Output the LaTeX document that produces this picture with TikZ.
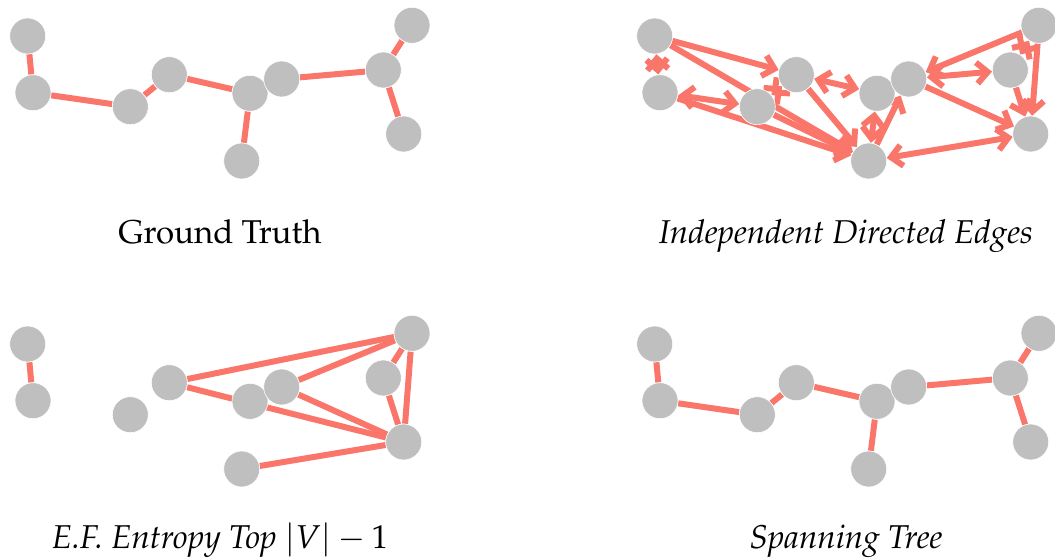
\documentclass[tikz,border=0pt]{standalone}
\usepackage[T1]{fontenc}
\usepackage{mathpazo}
\usetikzlibrary{arrows.meta,backgrounds}
\definecolor{edgec}{RGB}{250,118,106}
\definecolor{nodec}{RGB}{191,191,191}
\tikzset{
  vtx/.style={circle,fill=nodec,draw=white,line width=0.6pt,minimum size=36pt,inner sep=0pt},
  edg/.style={draw=edgec,line width=6pt},
  tipr/.style={-{Straight Barb[length=11pt,width=21pt]}},
  tipb/.style={{Straight Barb[length=11pt,width=21pt]}-{Straight Barb[length=11pt,width=21pt]}},
  lbl/.style={font=\fontsize{33}{40}\selectfont,anchor=base,inner sep=0pt}
}
\newcommand\placevtx[1]{%
  \foreach \i/\px/\py in {1/27.7/36,2/33/92.7,3/130.3/106.7,4/169.3/74.7,5/250/93.3,6/281.7/79,7/241.7/161,8/383.3/70,9/412/25.3,10/403.7/134}
    {\node[vtx] (#1\i) at (\px,\py) {};}}
\begin{document}
\begin{tikzpicture}[x=1pt,y=-1pt]
\useasboundingbox (0,0) rectangle (1055,557);
% panels
\begin{scope}\placevtx{a}\end{scope}
\begin{scope}[shift={(627,0)}]\placevtx{c}\end{scope}
\begin{scope}[shift={(0,308)}]\placevtx{d}\end{scope}
\begin{scope}[shift={(627,308)}]\placevtx{b}\end{scope}
\begin{pgfonlayer}{background}
  % ground truth and spanning tree
  \foreach \p in {a,b}{
    \draw[edg] (\p1) -- (\p2);
    \draw[edg] (\p2) -- (\p3);
    \draw[edg] (\p3) -- (\p4);
    \draw[edg] (\p4) -- (\p5);
    \draw[edg] (\p5) -- (\p6);
    \draw[edg] (\p5) -- (\p7);
    \draw[edg] (\p6) -- (\p8);
    \draw[edg] (\p8) -- (\p9);
    \draw[edg] (\p8) -- (\p10);
  }
  % independent directed edges
  \draw[edg,tipb] (c1) -- (c2);
  \draw[edg,tipr] (c1) -- (c4);
  \draw[edg,tipr] (c1) -- (c7);
  \draw[edg,tipb] (c2) -- (c3);
  \draw[edg,tipr] (c2) -- (c7);
  \draw[edg,tipb] (c3) -- (c4);
  \draw[edg,tipr] (c3) -- (c7);
  \draw[edg,tipr] (c4) -- (c7);
  \draw[edg,tipb] (c4) -- (c5);
  \draw[edg,tipb] (c5) -- (c7);
  \draw[edg,tipr] (c7) -- (c6);
  \draw[edg,tipb] (c6) -- (c8);
  \draw[edg,tipr] (c9) -- (c6);
  \draw[edg,tipb] (c9) -- (c8);
  \draw[edg,tipr] (c9) -- (c10);
  \draw[edg,tipr] (c8) -- (c10);
  \draw[edg,tipr] (c6) -- (c10);
  \draw[edg,tipb] (c7) -- (c10);
  % E.F. entropy top |V|-1
  \draw[edg] (d1) -- (d2);
  \draw[edg] (d4) -- (d9);
  \draw[edg] (d4) -- (d10);
  \draw[edg] (d6) -- (d9);
  \draw[edg] (d6) -- (d10);
  \draw[edg] (d8) -- (d9);
  \draw[edg] (d8) -- (d10);
  \draw[edg] (d9) -- (d10);
  \draw[edg] (d7) -- (d10);
\end{pgfonlayer}
\node[lbl] (l1) at (220,243) {Ground Truth};
\node[lbl] (l2) at (846,243) {\itshape Independent Directed Edges};
\node[lbl] (l3) at (220,548) {\itshape E.F. Entropy Top $|V|-1$};
\node[lbl] (l4) at (846,548) {\itshape Spanning Tree};
\end{tikzpicture}
\end{document}
